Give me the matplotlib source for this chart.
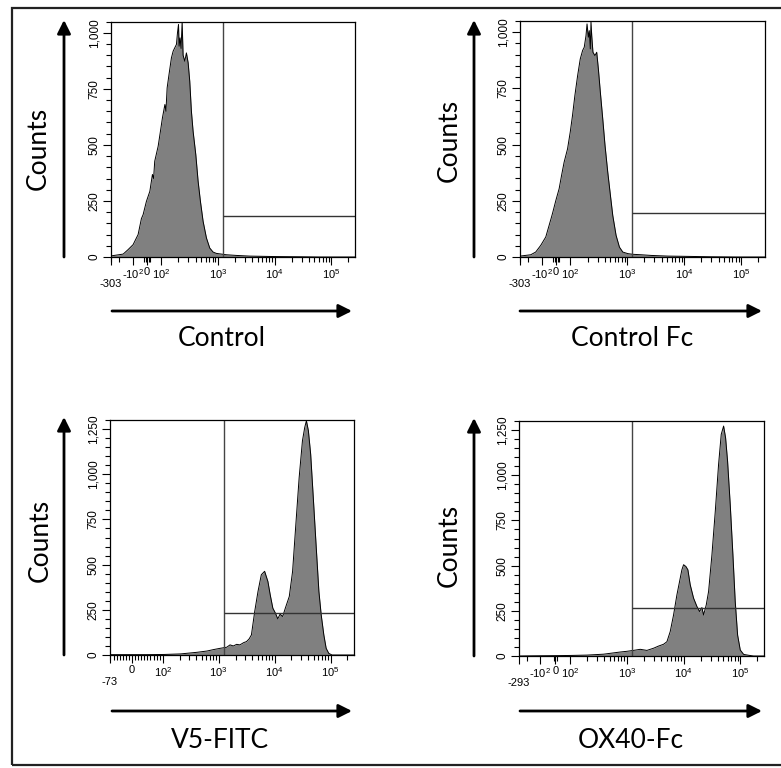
import numpy as np
import matplotlib
matplotlib.use('Agg')
import matplotlib.pyplot as plt
from matplotlib.patches import FancyArrowPatch, Rectangle
from matplotlib.ticker import FixedLocator

plt.rcParams['mathtext.fontset'] = 'custom'
plt.rcParams['mathtext.rm'] = 'Liberation Sans'
plt.rcParams['mathtext.it'] = 'Liberation Sans'

# Histogram data (fluorescence value, counts)
ctrl_x = [-300, -163, -127, -98, -63, -40, -28, -5, 19, 37, 45, 53, 77, 93, 104, 115, 120, 126,
          136, 150, 161, 172, 184, 192, 200, 205, 213, 222, 232, 241, 258, 276, 296,
          316, 338, 362, 404, 444, 488, 544, 623, 713, 817, 935, 1146, 1406, 2104,
          3622, 10000, 30000, 60000, 262144]
ctrl_n = [5, 13, 33, 55, 100, 171, 189, 248, 293, 368, 350, 427, 494, 561, 620, 680, 650, 754,
          814, 888, 918, 933, 948, 1000, 1037, 940, 977, 930, 1050, 900, 873, 910, 866,
          784, 650, 561, 457, 338, 248, 159, 85, 40, 22, 16, 13, 10, 7,
          4, 2, 1, 0, 0]

ctrlfc_x = [-303, -176, -137, -106, -73, -38, -26, -2, 21, 38, 56, 80, 99, 109, 120,
            134, 149, 164, 175, 188, 196, 207, 215, 224, 230, 237, 249, 270, 290, 310,
            336, 370, 406, 453, 505, 555, 635, 727, 833, 1021, 1250, 1744, 2618, 5190,
            10000, 30000, 80000, 262144]
ctrlfc_n = [4, 10, 22, 52, 89, 166, 193, 252, 304, 363, 422, 481, 556, 630, 719,
            807, 881, 919, 933, 985, 1037, 978, 1007, 926, 1047, 985, 911, 896, 911, 837,
            733, 615, 496, 378, 274, 185, 96, 44, 22, 15, 12, 10, 7, 4,
            3, 1, 0, 0]

v5_x = [-73, 51, 106, 209, 412, 618, 811, 1062, 1393, 1596, 1828, 2094, 2393, 2818,
        3141, 3499, 3846, 4406, 5047, 5781, 6622, 7575, 8337, 9290, 10351, 11376,
        12500, 13932, 15524, 18281, 20940, 23930, 27420, 31410, 34510, 36980, 40090,
        44060, 49090, 55460, 61810, 67980, 75740, 83370, 92900, 106200, 262144]
v5_n = [2, 2, 3, 6, 15, 22, 30, 37, 43, 56, 50, 59, 56, 69,
        74, 89, 111, 241, 352, 444, 463, 407, 333, 259, 231, 200,
        226, 213, 259, 324, 463, 722, 981, 1185, 1259, 1296, 1241,
        1111, 870, 593, 352, 222, 111, 37, 9, 0, 0]

ox40_x = [-293, -150, 0, 100, 197, 387, 762, 1000, 1309, 1718, 2254, 2951, 3622, 4436,
          5081, 5808, 6654, 7621, 8492, 9333, 10000, 10990, 11910, 13090, 15000, 17180,
          19150, 21040, 22540, 25120, 27610, 31620, 36220, 41400, 46130, 50820, 55080,
          59700, 66530, 74130, 81470, 89740, 100000, 114600, 140300, 171800, 262144]
ox40_n = [0, 1, 2, 3, 5, 10, 22, 26, 31, 37, 31, 43, 55, 65,
          79, 135, 227, 338, 412, 477, 505, 495, 477, 394, 320, 274,
          246, 268, 227, 283, 357, 560, 800, 1059, 1226, 1272, 1207,
          1078, 837, 560, 301, 116, 33, 9, 4, 0, 0]

names = ['Control', 'Control Fc', 'V5-FITC', 'OX40-Fc']
gate_x = [1200, 1200, 1220, 1210]
gate_y = [185, 196, 230, 268]
x_min = [-303, -303, -73, -293]
x_max = 262144
y_max = [1050, 1050, 1300, 1300]
lin_width = [0.253, 0.25, 0.55, 0.265]

series = [(ctrl_x, ctrl_n), (ctrlfc_x, ctrlfc_n), (v5_x, v5_n), (ox40_x, ox40_n)]


def make_scale(L, k=0.8):
    # biexponential-like display: linear around zero, log above 100
    def fwd(x):
        x = np.asarray(x, float)
        a = np.maximum(np.abs(x), 1e-9)
        pos = L + np.log10(a / 100)
        neg = -(L + k * np.log10(a / 100))
        return np.where(x > 100, pos, np.where(x < -100, neg, x / 100 * L))

    def inv(y):
        y = np.asarray(y, float)
        with np.errstate(over='ignore'):
            pos = 100 * 10 ** np.clip(y - L, -10, 10)
            neg = -100 * 10 ** np.clip((-y - L) / k, -10, 10)
        return np.where(y > L, pos, np.where(y < -L, neg, y / L * 100))
    return fwd, inv


W, H = 781, 768
fig = plt.figure(figsize=(W / 100, H / 100), dpi=100)


def fx(px):
    return px / W


def fy(py):
    return 1 - py / H


# outer frame
fig.add_artist(Rectangle((fx(12), fy(765)), 2, (765 - 8) / H, fill=False, lw=1.6,
                         edgecolor='#222222', transform=fig.transFigure))

boxes = [(111, 21.5, 355, 257), (520, 21, 765, 257),
         (109.5, 420, 354, 655), (519, 421, 764, 656)]

for i, (x, n) in enumerate(series):
    l, t, r, b = boxes[i]
    ax = fig.add_axes([fx(l), fy(b), (r - l) / W, (b - t) / H])
    ax.set_xscale('function', functions=make_scale(lin_width[i]))
    ax.set_xlim(x_min[i], x_max)
    ax.set_ylim(0, y_max[i])

    ax.fill_between(x, 0, n, color='#808080', lw=0)
    ax.plot(x, n, color='black', lw=0.7)

    ax.axvline(gate_x[i], color='#444444', lw=1.0)
    ax.hlines(gate_y[i], gate_x[i], x_max, color='#333333', lw=1.0)

    # x ticks
    majors = [x_min[i]]
    labels = ['\n' + str(x_min[i])]
    if x_min[i] < -100:
        majors.append(-100)
        labels.append(r'-10$^2$')
    majors += [0, 100, 1000, 10000, 100000]
    labels += ['0', r'10$^2$', r'10$^3$', r'10$^4$', r'10$^5$']
    ax.set_xticks(majors)
    ax.set_xticklabels(labels)
    minors = [k * 10 ** e for e in range(2, 6) for k in range(2, 10)]
    minors = [m for m in minors if m < x_max]
    minors += [m for m in (-200, -300) if m > x_min[i]]
    if i == 2:
        minors += [v for v in range(-70, 100, 10) if v != 0]
    elif i == 3:
        minors += [-10, 10]
    else:
        minors += [-20, -10, 10, 20]
    ax.xaxis.set_minor_locator(FixedLocator(minors))

    # y ticks
    yt = list(range(0, y_max[i] + 1, 250))
    ax.set_yticks(yt)
    ax.set_yticklabels([f'{v:,}' for v in yt], rotation=90, va='center')
    ax.yaxis.set_minor_locator(FixedLocator(list(range(0, y_max[i] + 1, 50))))

    ax.tick_params(which='major', length=6, width=0.8, pad=1.5)
    ax.tick_params(axis='x', labelsize=8)
    ax.tick_params(axis='y', labelsize=8.5)
    ax.tick_params(which='minor', length=3.5, width=0.8)
    for lab in ax.get_xticklabels() + ax.get_yticklabels():
        lab.set_fontfamily('Liberation Sans')
    for s in ax.spines.values():
        s.set_linewidth(0.9)


# axis arrows and labels
def arrow(p0, p1):
    fig.add_artist(FancyArrowPatch((fx(p0[0]), fy(p0[1])), (fx(p1[0]), fy(p1[1])),
                                   transform=fig.transFigure, arrowstyle='-|>',
                                   mutation_scale=20, lw=2, color='black',
                                   shrinkA=0, shrinkB=0))


arrow((64, 257), (64, 20))
arrow((474, 257), (474, 20))
arrow((64, 655), (64, 417))
arrow((474, 656), (474, 418))

arrow((112, 311), (352, 311))
arrow((520, 311), (762, 311))
arrow((112, 711), (352, 711))
arrow((520, 711), (762, 711))

label_font = dict(family='Lato', fontsize=19, color='black')
fig.text(fx(38), fy(148), 'Counts', rotation=90, ha='center', va='center', **label_font)
fig.text(fx(449), fy(140), 'Counts', rotation=90, ha='center', va='center', **label_font)
fig.text(fx(40), fy(540), 'Counts', rotation=90, ha='center', va='center', **label_font)
fig.text(fx(449), fy(545), 'Counts', rotation=90, ha='center', va='center', **label_font)

label_pos = [(222, 338), (632, 338), (220, 740), (631, 740)]
for name, (px, py) in zip(names, label_pos):
    fig.text(fx(px), fy(py), name, ha='center', va='center', **label_font)

fig.savefig('out.png', dpi=100)
